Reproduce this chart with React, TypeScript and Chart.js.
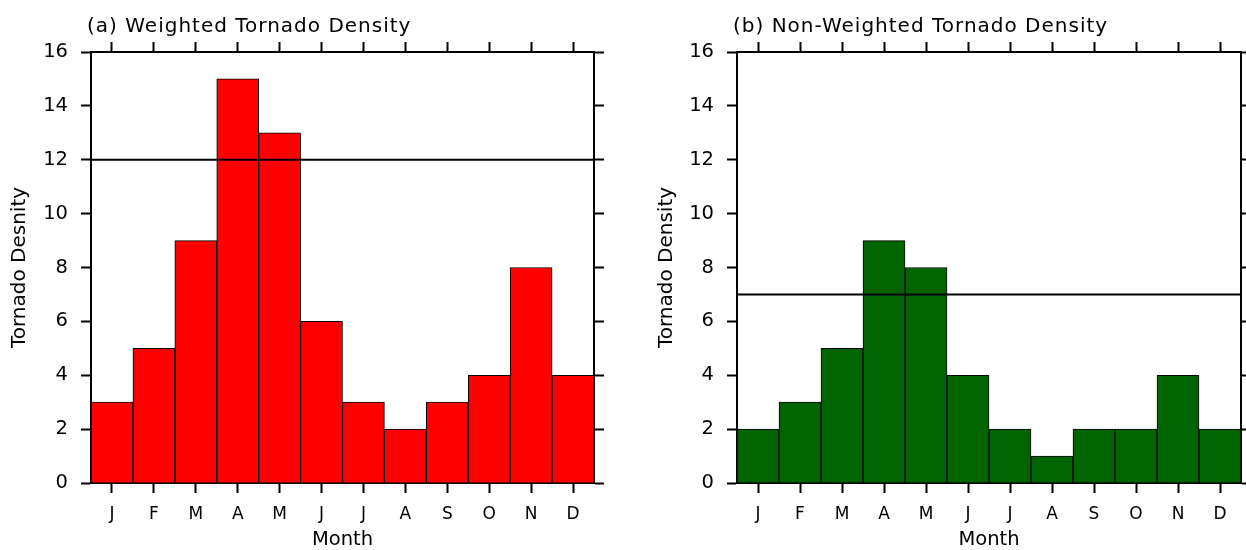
import React, { useEffect, useRef } from "react";
import { Chart, registerables } from "chart.js";

Chart.register(...registerables);

// ---- data ----
const months = ["J", "F", "M", "A", "M", "J", "J", "A", "S", "O", "N", "D"];
const weightedDensity = [3, 5, 9, 15, 13, 6, 3, 2, 3, 4, 8, 4];
const nonWeightedDensity = [2, 3, 5, 9, 8, 4, 2, 1, 2, 2, 4, 2];
const weightedThreshold = 12;
const nonWeightedThreshold = 7;
const yMin = 0;
const yMax = 16;
const yStep = 2;

const FONT = '"DejaVu Sans", "Liberation Sans", sans-serif';

type PanelProps = {
  title: string;
  yTitle: string;
  values: number[];
  threshold: number;
  color: string;
  leftWidth: number;
  rightWidth: number;
  yTitlePad: number;
  left: number;
};

function Panel(props: PanelProps) {
  const ref = useRef<HTMLCanvasElement | null>(null);
  useEffect(() => {
    if (!ref.current) return;
    const gridOpts = {
      drawOnChartArea: false,
      drawTicks: true,
      tickLength: 10,
      tickWidth: 2,
      tickColor: "#000",
      offset: false,
    };
    const borderOpts = { display: true, color: "#000", width: 2 };
    const thresholdPlugin = {
      id: "thresholdLine",
      afterDatasetsDraw(chart: any) {
        const { ctx, chartArea, scales } = chart;
        const y = scales.y.getPixelForValue(props.threshold);
        ctx.save();
        ctx.strokeStyle = "#000";
        ctx.lineWidth = 2;
        ctx.beginPath();
        ctx.moveTo(chartArea.left, y);
        ctx.lineTo(chartArea.right, y);
        ctx.stroke();
        ctx.restore();
      },
    };
    const titlePlugin = {
      id: "panelTitle",
      afterDraw(chart: any) {
        const { ctx, chartArea } = chart;
        ctx.save();
        ctx.font = `20px ${FONT}`;
        try {
          (ctx as any).letterSpacing = "1px";
        } catch (e) {}
        ctx.fillStyle = "#000";
        ctx.textAlign = "left";
        ctx.textBaseline = "alphabetic";
        ctx.fillText(props.title, chartArea.left - 4, 31.5);
        ctx.restore();
      },
    };
    const chart = new Chart(ref.current, {
      type: "bar",
      data: {
        labels: months,
        datasets: [
          {
            data: props.values,
            backgroundColor: props.color,
            borderColor: "#000",
            borderWidth: 1,
            barPercentage: 1,
            categoryPercentage: 1,
          },
        ],
      },
      options: {
        responsive: false,
        maintainAspectRatio: false,
        animation: false,
        layout: { padding: 0 },
        plugins: {
          legend: { display: false },
          tooltip: { enabled: false },
          title: { display: false },
        },
        scales: {
          x: {
            type: "category",
            position: "bottom",
            offset: true,
            grid: gridOpts,
            border: borderOpts,
            z: 1,
            ticks: {
              font: { family: FONT, size: 17 },
              color: "#000",
              padding: 11,
              maxRotation: 0,
              autoSkip: false,
            },
            title: {
              display: true,
              text: "Month",
              color: "#000",
              font: { family: FONT, size: 19.5, lineHeight: 1 },
              padding: { top: 0, bottom: 0 },
            },
            afterFit: (s: any) => {
              s.height = 67;
            },
          },
          x2: {
            type: "category",
            position: "top",
            offset: true,
            grid: gridOpts,
            border: borderOpts,
            z: 1,
            ticks: { display: false, autoSkip: false },
            afterFit: (s: any) => {
              s.height = 52;
            },
          },
          y: {
            type: "linear",
            position: "left",
            min: yMin,
            max: yMax,
            grid: gridOpts,
            border: borderOpts,
            z: 1,
            ticks: {
              stepSize: yStep,
              font: { family: FONT, size: 19.5 },
              color: "#000",
              padding: 13,
            },
            title: {
              display: true,
              text: props.yTitle,
              color: "#000",
              font: { family: FONT, size: 20, lineHeight: 1 },
              padding: { top: props.yTitlePad, bottom: 0 },
            },
            afterFit: (s: any) => {
              s.width = props.leftWidth;
            },
          },
          y2: {
            type: "linear",
            position: "right",
            min: yMin,
            max: yMax,
            grid: gridOpts,
            border: borderOpts,
            z: 1,
            ticks: { stepSize: yStep, display: false },
            afterFit: (s: any) => {
              s.width = props.rightWidth;
            },
          },
        },
      } as any,
      plugins: [thresholdPlugin, titlePlugin],
    });
    return () => chart.destroy();
  }, []);
  return (
    <canvas
      ref={ref}
      width={623}
      height={550}
      style={{
        position: "absolute",
        left: props.left,
        top: 0,
        width: 623,
        height: 550,
        display: "block",
      }}
    />
  );
}

export default function App() {
  return (
    <div
      style={{
        position: "absolute",
        left: 0,
        top: 0,
        width: 1246,
        height: 550,
        background: "#fff",
        overflow: "hidden",
      }}
    >
      <Panel
        title="(a) Weighted Tornado Density"
        yTitle="Tornado Desnity"
        values={weightedDensity}
        threshold={weightedThreshold}
        color="#ff0000"
        leftWidth={91}
        rightWidth={29}
        yTitlePad={9.5}
        left={0}
      />
      <Panel
        title="(b) Non-Weighted Tornado Density"
        yTitle="Tornado Density"
        values={nonWeightedDensity}
        threshold={nonWeightedThreshold}
        color="#006400"
        leftWidth={114}
        rightWidth={5}
        yTitlePad={33.5}
        left={623}
      />
    </div>
  );
}
